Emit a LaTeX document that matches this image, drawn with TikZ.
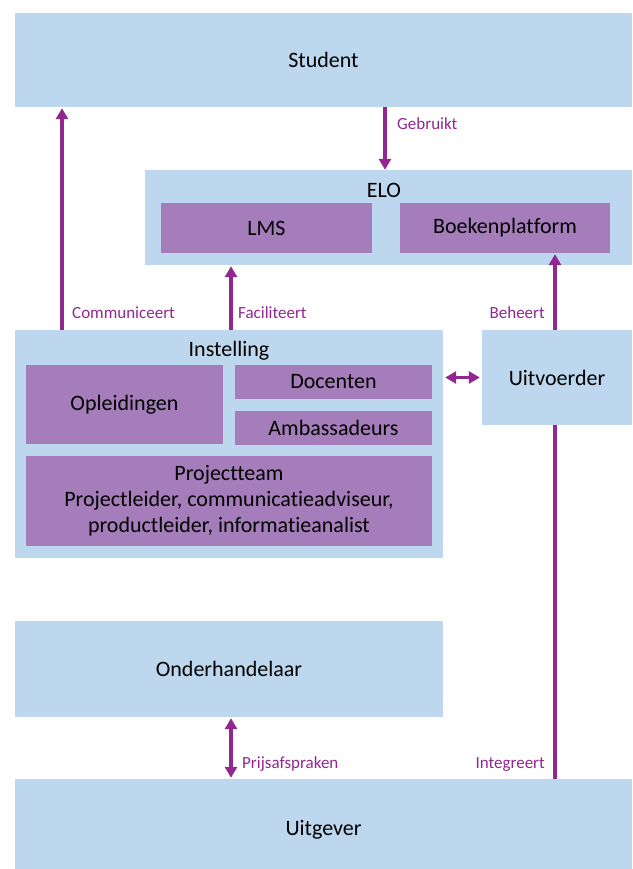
\documentclass[tikz,border=0pt]{standalone}
\usepackage{fontspec}
\setmainfont{Carlito}[Ligatures=NoCommon]
\usetikzlibrary{arrows.meta}
\definecolor{lichtblauw}{RGB}{189,215,238}
\definecolor{paars}{RGB}{166,125,187}
\definecolor{pijl}{RGB}{146,39,143}
\tikzset{
  bluebox/.style={fill=lichtblauw, draw=none, inner sep=0pt, font=\fontsize{22}{26}\selectfont},
  purplebox/.style={fill=paars, draw=none, inner sep=0pt, align=center, font=\fontsize{22}{26}\selectfont},
  titel/.style={inner sep=0pt, font=\fontsize{22}{26}\selectfont},
  lbl/.style={text=pijl, inner sep=0pt, font=\fontsize{17}{20}\selectfont},
  arr/.style={draw=pijl, line width=3.5pt, -{Triangle[length=11pt,width=12pt]}},
  dblarr/.style={draw=pijl, line width=3.5pt, {Triangle[length=11pt,width=12pt]}-{Triangle[length=11pt,width=12pt]}},
  lijn/.style={draw=pijl, line width=3.5pt}
}
\begin{document}
\begin{tikzpicture}[x=1pt, y=-1pt]
\useasboundingbox (0,0) rectangle (632,869);
\begin{scope}
\clip (0,0) rectangle (632,869);
\node[bluebox, minimum width=617pt, minimum height=94pt] (student) at (323.5,60) {Student};
\node[bluebox, minimum width=487pt, minimum height=95pt] (elo) at (388.5,217.5) {};
\node[titel] (elotitel) at (384,190) {ELO};
\node[purplebox, minimum width=211pt, minimum height=50pt] (lms) at (266.5,228) {LMS};
\node[purplebox, minimum width=210pt, minimum height=50pt] (boek) at (505,228) {Boekenplatform};
\node[bluebox, minimum width=428pt, minimum height=228pt] (instelling) at (229,444) {};
\node[titel] (insttitel) at (229,351) {Instelling};
\node[purplebox, minimum width=197pt, minimum height=79pt, text depth=3pt] (opl) at (124.5,404.5) {Opleidingen};
\node[purplebox, minimum width=197pt, minimum height=34pt] (doc) at (333.5,382) {Docenten};
\node[purplebox, minimum width=197pt, minimum height=34pt] (amb) at (333.5,428) {Ambassadeurs};
\node[purplebox, minimum width=406pt, minimum height=90pt] (proj) at (229,501) {\raisebox{-3pt}{\parbox{400pt}{\centering Projectteam\\Projectleider, communicatieadviseur,\\productleider, informatieanalist}}};
\node[bluebox, minimum width=150pt, minimum height=95pt] (uitv) at (557,377.5) {Uitvoerder};
\node[bluebox, minimum width=428pt, minimum height=96pt] (onder) at (229,669) {Onderhandelaar};
\node[bluebox, minimum width=617pt, minimum height=102pt] (uitg) at (323.5,830) {Uitgever};
\end{scope}
\coordinate (xg) at (385,0);
\coordinate (xc) at (62,0);
\coordinate (xf) at (231,0);
\coordinate (xb) at (555,0);
\draw[arr] (xg |- student.south) -- (xg |- elo.north);
\draw[arr] (xc |- instelling.north) -- ([yshift=-1pt]xc |- student.south);
\draw[arr] (xf |- instelling.north) -- ([yshift=-1pt]xf |- elo.south);
\draw[arr] (xb |- uitv.north) -- ([yshift=-1pt]xb |- boek.south);
\draw[dblarr] ([xshift=2pt]instelling.east |- uitv.west) -- ([xshift=-2pt]uitv.west);
\draw[lijn] (xb |- uitg.north) -- (xb |- uitv.south);
\draw[dblarr] ([yshift=-1pt]xf |- onder.south) -- ([yshift=1pt]xf |- uitg.north);
\node[lbl, anchor=west] (gebruikt) at (397,124) {Gebruikt};
\node[lbl, anchor=west] (comm) at (72,313) {Communiceert};
\node[lbl, anchor=west] (facil) at (238,313) {Faciliteert};
\node[lbl, anchor=east] (beheert) at (545,313) {Beheert};
\node[lbl, anchor=west] (prijs) at (242,764) {Prijsafspraken};
\node[lbl, anchor=east] (integreert) at (545,764) {Integreert};
\end{tikzpicture}
\end{document}
